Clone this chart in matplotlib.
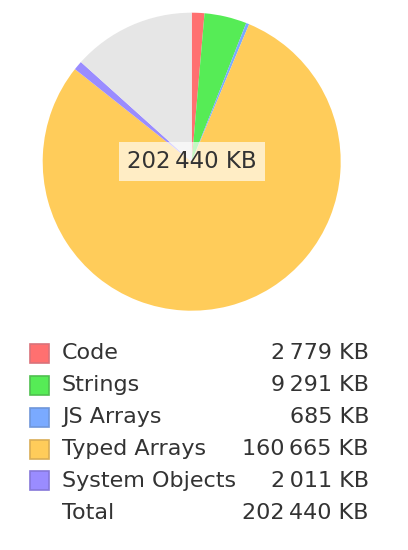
import matplotlib.pyplot as plt
from matplotlib.patches import Rectangle

# memory breakdown, KB
labels = ['Code', 'Strings', 'JS Arrays', 'Typed Arrays', 'System Objects']
values = [2779, 9291, 685, 160665, 2011]
total = 202440
colors = ['#ff7070', '#56ec56', '#7aaaff', '#ffcc5a', '#9a8cff']
edges = ['#d9727a', '#4fbf4f', '#6f96d9', '#d9ad55', '#8577d9']
other_color = '#e6e6e6'


def fmt(v):
    return '{:,}'.format(v).replace(',', '\u2009') + ' KB'


W, H = 408, 550
fig = plt.figure(figsize=(W / 100, H / 100), dpi=100)

cx, cy, r = 191.7, 161.7, 149
ax = fig.add_axes([(cx - r) / W, 1 - (cy + r) / H, 2 * r / W, 2 * r / H])
other = total - sum(values)
ax.pie(values + [other], colors=colors + [other_color], startangle=90,
       counterclock=False, radius=1, wedgeprops=dict(linewidth=0))
ax.set_xlim(-1, 1)
ax.set_ylim(-1, 1)
ax.set_aspect('equal')
ax.axis('off')

ax.text(0, 0, fmt(total), ha='center', va='center', fontsize=16.5, color='#333333',
        bbox=dict(boxstyle='square,pad=0.35', facecolor='white', alpha=0.65, linewidth=0))

# legend rows
y0, dy = 353.3, 31.9
rows = labels + ['Total']
nums = values + [total]
for i, (lab, v) in enumerate(zip(rows, nums)):
    y = y0 + i * dy
    if i < len(labels):
        fig.patches.append(Rectangle((30 / W, 1 - (y + 9.5) / H), 19 / W, 19 / H,
                                     transform=fig.transFigure, facecolor=colors[i],
                                     edgecolor=edges[i], linewidth=1.2))
    fig.text(62 / W, 1 - y / H, lab, ha='left', va='center', fontsize=16, color='#333333')
    fig.text(369 / W, 1 - y / H, fmt(v), ha='right', va='center', fontsize=16, color='#333333')

fig.savefig('out.png', dpi=100)
